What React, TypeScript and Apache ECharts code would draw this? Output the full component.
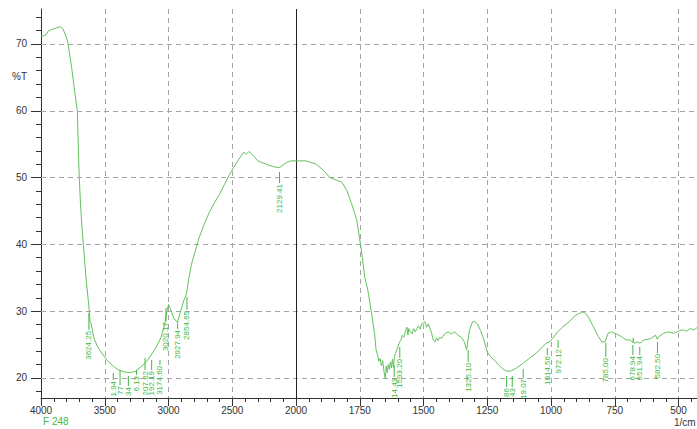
import React, { useEffect, useRef } from 'react';
import * as echarts from 'echarts';

// Spectrum: wavenumber (1/cm) and transmittance (%T)
const specWn = [
  4000, 3980, 3960, 3940, 3910, 3880, 3850, 3830, 3810, 3790, 3760, 3740, 3715, 3708, 3700, 3690, 3680, 3668, 3647, 3621,
  3615, 3608, 3600, 3585, 3560, 3530, 3480, 3430, 3400, 3350, 3300, 3260, 3220, 3180, 3140, 3100, 3060, 3030, 3010, 3000,
  2985, 2960, 2930, 2905, 2880, 2860, 2840, 2820, 2790, 2760, 2720, 2680, 2640, 2600, 2560, 2520, 2480, 2440, 2410, 2390,
  2370, 2350, 2330, 2300, 2260, 2220, 2170, 2130, 2100, 2070, 2040, 2000, 1960, 1920, 1893, 1867, 1840, 1820, 1801, 1782,
  1762, 1745, 1730, 1718, 1705, 1692, 1686, 1680, 1675, 1670, 1665, 1660, 1655, 1650, 1646, 1642, 1638, 1634, 1630, 1626,
  1622, 1618, 1614, 1609, 1603, 1596, 1590, 1583, 1577, 1571, 1565, 1561, 1558, 1552, 1545, 1539, 1532, 1526, 1520, 1513,
  1507, 1500, 1494, 1488, 1481, 1475, 1468, 1462, 1455, 1449, 1443, 1436, 1430, 1417, 1404, 1391, 1378, 1365, 1352, 1340,
  1331, 1320, 1308, 1301, 1289, 1276, 1263, 1250, 1237, 1218, 1199, 1180, 1167, 1154, 1135, 1109, 1083, 1058, 1032, 1019,
  1006, 994, 974, 955, 929, 904, 891, 878, 865, 853, 833, 814, 801, 788, 776, 763, 744, 724, 706, 689,
  680, 677, 674, 660, 651, 635, 609, 590, 583, 577, 558, 539, 519, 506, 494, 481, 468, 454, 440, 425,
];
const specT = [
  71.2, 71.2, 71.4, 72.0, 72.2, 72.4, 72.6, 72.3, 71.5, 70.3, 66.5, 63.5, 60.0, 55.0, 50.0, 46.0, 43.0, 40.0, 35.0, 30.0,
  28.4, 28.3, 27.4, 26.0, 24.8, 23.9, 22.6, 21.7, 21.3, 20.9, 20.8, 21.0, 21.6, 22.3, 23.3, 24.5, 26.0, 28.0, 30.2, 31.0,
  30.4, 29.0, 28.3, 30.0, 31.6, 32.5, 35.0, 37.0, 39.0, 41.0, 43.0, 44.8, 46.2, 47.5, 49.0, 50.5, 51.8, 53.0, 53.8, 53.5,
  53.9, 53.6, 53.2, 52.5, 52.2, 51.9, 51.6, 51.5, 51.9, 52.3, 52.5, 52.5, 52.5, 52.0, 51.1, 50.0, 49.6, 49.3, 48.1, 46.1,
  43.7, 39.5, 35.0, 33.1, 30.0, 26.7, 24.2, 23.4, 22.5, 22.9, 21.8, 22.6, 21.0, 19.9, 21.8, 20.8, 22.0, 21.3, 22.4, 21.5,
  22.8, 21.6, 23.2, 23.8, 24.4, 25.2, 25.6, 26.4, 26.1, 27.0, 27.6, 26.4, 27.4, 26.9, 26.6, 27.4, 26.9, 27.4, 27.8, 27.3,
  28.1, 28.3, 28.4, 27.6, 28.1, 27.4, 26.7, 25.7, 25.4, 26.0, 25.6, 26.1, 25.9, 26.6, 26.9, 26.6, 26.9, 26.4, 26.1, 25.4,
  24.2, 27.1, 28.4, 28.5, 28.1, 27.1, 25.7, 23.9, 23.2, 22.5, 21.7, 21.1, 21.0, 21.1, 21.5, 22.2, 23.0, 23.7, 24.7, 25.2,
  25.4, 25.9, 26.9, 27.6, 28.4, 29.4, 29.6, 29.9, 29.7, 29.1, 27.6, 26.2, 25.4, 25.4, 26.7, 26.9, 26.6, 26.2, 25.7, 25.7,
  25.3, 26.0, 25.2, 25.4, 25.2, 25.7, 25.9, 26.4, 25.8, 26.2, 26.7, 26.9, 26.7, 26.9, 27.1, 27.2, 27.0, 27.4, 27.2, 27.6,
];

// Axis ticks
const xTickWn = [4000, 3500, 3000, 2500, 2000, 1750, 1500, 1250, 1000, 750, 500];
const yMajorTicks = [20, 30, 40, 50, 60, 70];
const yMinorTicks = [18, 22, 24, 26, 28, 32, 34, 36, 38, 42, 44, 46, 48, 52, 54, 56, 58, 62, 64, 66, 68, 72, 74];
const hGridValues = [20, 30, 40, 50, 60, 70];

// Peak annotations
const peakWn = [3624.25, 3433, 3380, 3315, 3250, 3184, 3132, 3067, 3020, 2928, 2855, 2129, 1615, 1593, 1325, 1174, 1152, 1109, 1014.56, 972.12, 785, 678.94, 651.94, 582.5];
const peakLineTop = [29.7, 20.75, 21.2, 20.3, 21.2, 22.99, 22.69, 22.69, 30.48, 28.23, 32.13, 50.84, 21.95, 24.64, 24.19, 20.3, 20.3, 21.35, 24.49, 25.69, 25.24, 24.94, 24.64, 25.39];
const peakLineBottom = [27.2, 19.7, 18.95, 18.8, 20.45, 21.2, 21.2, 21.95, 28.5, 27.34, 30.18, 49.19, 20.15, 22.99, 22.4, 18.65, 18.65, 20.0, 23.44, 24.49, 23.14, 23.44, 23.44, 23.74];
const peakText = ['3624.25', '1.94', '77', '34', '6.13', '207.62', '192.19', '3174.60', '3020.17', '2927.94', '2854.65', '2129.41', '14.43', '1593.20', '1325.10', '86', '43', '19.07', '1014.56', '972.12', '785.00', '678.94', '651.94', '582.50'];

// Split axis: 4000-2000 compressed by 2
const wnToU = (wn: number) => (wn >= 2000 ? (4000 - wn) / 2 : 1000 + (2000 - wn));
const uToWn = (u: number) => (u <= 1000 ? 4000 - 2 * u : 2000 - (u - 1000));

const FONT = 'Liberation Sans, Arial, sans-serif';
const GREEN_LINE = '#62c25c';
const GREEN_TEXT = '#3cb83c';

export default function App() {
  const ref = useRef<HTMLDivElement>(null);
  useEffect(() => {
    if (!ref.current) return;
    const chart = echarts.init(ref.current, null, { renderer: 'svg' });
    const labelSet = new Set(xTickWn.map((w) => wnToU(w)));
    chart.setOption({
      animation: false,
      backgroundColor: '#ffffff',
      grid: { left: 41, top: 9, width: 701.25, height: 389, outerBoundsMode: 'none', containLabel: false },
      xAxis: {
        type: 'value',
        min: 0,
        max: 2750,
        interval: 250,
        axisLine: { show: true, lineStyle: { color: '#333', width: 1 } },
        axisTick: { show: true, inside: false, length: 8, lineStyle: { color: '#333' } },
        minorTick: { show: true, splitNumber: 5, length: 4, lineStyle: { color: '#333' } },
        axisLabel: {
          formatter: (v: number) => (labelSet.has(v) ? String(uToWn(v)) : ''),
          fontSize: 10,
          color: '#333',
          fontFamily: FONT,
          margin: 7,
          showMaxLabel: false,
        },
        splitLine: { show: true, lineStyle: { type: [5, 4], color: '#a5a5a5', width: 1 } },
      },
      yAxis: [
        {
          type: 'value',
          min: 17,
          max: 75.24,
          axisLine: { show: true, lineStyle: { color: '#333', width: 1 } },
          axisTick: { show: true, customValues: yMajorTicks, length: 10, lineStyle: { color: '#333' } },
          axisLabel: { customValues: yMajorTicks, fontSize: 10, color: '#333', fontFamily: FONT, margin: 14 },
          splitLine: { show: false },
        },
        {
          type: 'value',
          min: 17,
          max: 75.24,
          position: 'left',
          axisLine: { show: false },
          axisTick: { show: true, customValues: yMinorTicks, length: 5, lineStyle: { color: '#333' } },
          axisLabel: { show: false },
          splitLine: { show: false },
        },
      ],
      series: [
        {
          type: 'line',
          silent: true,
          showSymbol: false,
          symbol: 'none',
          z: 3,
          data: specWn.map((w, i) => [wnToU(w), specT[i]]),
          lineStyle: { color: GREEN_LINE, width: 1 },
          markLine: {
            silent: true,
            symbol: ['none', 'none'],
            label: { show: false },
            z: 1,
            data: [
              ...hGridValues.map((v) => ({ yAxis: v, lineStyle: { type: [5, 4], color: '#a5a5a5', width: 1 } })),
              { xAxis: wnToU(2000), lineStyle: { type: 'solid', color: '#222', width: 1 } },
            ],
          },
        },
        {
          type: 'custom',
          silent: true,
          z: 4,
          coordinateSystem: 'cartesian2d',
          data: peakWn.map((w, i) => [wnToU(w), peakLineTop[i], peakLineBottom[i], i]),
          renderItem: (params: any, api: any) => {
            const x = api.coord([api.value(0), api.value(1)])[0];
            const y1 = api.coord([api.value(0), api.value(1)])[1];
            const y2 = api.coord([api.value(0), api.value(2)])[1];
            const idx = api.value(3);
            return {
              type: 'group',
              children: [
                { type: 'line', shape: { x1: x, y1, x2: x, y2 }, style: { stroke: GREEN_TEXT, lineWidth: 1 } },
                {
                  type: 'text',
                  x: x,
                  y: y2 + 1,
                  rotation: Math.PI / 2,
                  style: {
                    text: peakText[idx],
                    fontSize: 8,
                    fontFamily: FONT,
                    fill: GREEN_TEXT,
                    align: 'right',
                    verticalAlign: 'middle',
                  },
                },
              ],
            };
          },
        },
      ],
      graphic: [
        { type: 'text', left: 12, top: 71, style: { text: '%T', fontSize: 10, fontFamily: FONT, fill: '#333' } },
        { type: 'text', left: 43, top: 416, style: { text: 'F 248', fontSize: 10, fontFamily: FONT, fill: '#44b844' } },
        { type: 'text', left: 674, top: 417, style: { text: '1/cm', fontSize: 10, fontFamily: FONT, fill: '#333' } },
      ],
    });
    return () => chart.dispose();
  }, []);
  return (
    <div style={{ position: 'absolute', left: 0, top: 0, width: 697, height: 429, overflow: 'hidden', background: '#fff' }}>
      <div ref={ref} style={{ width: 800, height: 429 }} />
    </div>
  );
}
